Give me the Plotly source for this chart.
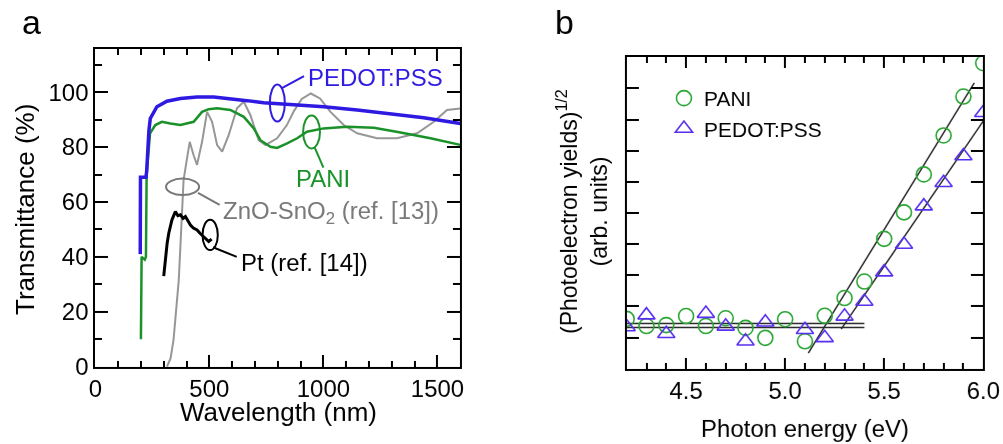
import plotly.graph_objects as go

FONT = "Liberation Sans, Arial, sans-serif"

# ---------------- Panel a data (wavelength nm, transmittance %) ----------------
pedot_nm = [197, 198, 222, 225, 235, 241, 270, 314, 373, 446, 519, 592, 665, 738, 810, 885, 1001, 1148, 1294, 1440, 1600]
pedot_T = [41, 69, 69, 71, 86, 90.4, 94.7, 96.7, 97.7, 98.2, 98.2, 97.7, 96.9, 96.1, 95.7, 95.3, 94.7, 93.5, 92.2, 90.7, 88.6]

pani_nm = [200, 203, 217, 222, 225, 240, 263, 292, 329, 373, 431, 468, 497, 534, 592, 651, 695, 724, 768, 797, 841, 885, 928, 1001, 1104, 1221, 1338, 1469, 1600]
pani_T = [10, 40, 39, 40, 70, 85, 88, 89.2, 88.6, 88, 89.2, 92.8, 93.8, 94.1, 93.5, 91, 86.8, 82.5, 80.1, 79.7, 81.3, 83.2, 85.6, 86.8, 87.4, 87, 85.3, 83.2, 80.8]

zno_nm = [314, 330, 343, 355, 366, 380, 387, 402, 414, 431, 446, 468, 490, 512, 534, 556, 585, 621, 651, 680, 716, 746, 797, 840, 870, 905, 945, 985, 1031, 1089, 1148, 1235, 1323, 1411, 1484, 1542, 1600]
zno_T = [0, 3, 9.8, 20, 31.6, 55.9, 68, 75.9, 81.9, 77, 73.5, 81.9, 92.8, 89.2, 80.7, 78.3, 84.4, 94.1, 96.5, 91.6, 82.5, 80.7, 83.2, 88, 93, 97.5, 99.5, 97.7, 92.8, 88, 85, 83.2, 83.2, 85, 89.2, 93.5, 94]

pt_nm = [300, 304, 307, 315, 322, 336, 351, 362, 373, 385, 395, 406, 417, 430, 446, 460, 475, 497, 510]
pt_T = [33, 37, 40.1, 45, 48.6, 53.5, 56.5, 55, 55.3, 54, 54.7, 53, 51.6, 50.5, 49.8, 48.5, 47.4, 45.6, 46.5]

# ---------------- Panel b data (photon energy eV, sqrt yield arb.) ----------------
pani_eV = [4.2, 4.3, 4.4, 4.5, 4.6, 4.7, 4.8, 4.9, 5.0, 5.1, 5.2, 5.3, 5.4, 5.5, 5.6, 5.7, 5.8, 5.9, 6.0]
pani_Y = [1.6, 1.37, 1.4, 1.69, 1.37, 1.62, 1.31, 0.99, 1.59, 0.88, 1.70, 2.27, 2.8, 4.17, 5.02, 6.24, 7.49, 8.74, 9.81]

pedot_eV = [4.2, 4.3, 4.4, 4.6, 4.7, 4.8, 4.9, 5.1, 5.2, 5.3, 5.4, 5.5, 5.6, 5.7, 5.8, 5.9, 6.0]
pedot_Y = [1.34, 1.72, 1.12, 1.77, 1.36, 0.88, 1.49, 1.25, 0.99, 1.68, 2.16, 3.10, 3.99, 5.22, 5.97, 6.83, 8.22]

pani_fit_x = [5.117, 5.955]
pani_fit_y = [0.50, 9.18]
pedot_fit_x = [5.283, 6.0]
pedot_fit_y = [1.27, 7.95]
base_x = [4.2, 5.4]
pani_base_y = [1.45, 1.45]
pedot_base_y = [1.32, 1.32]

BLUE = "rgb(45,25,225)"
GREEN = "rgb(25,145,40)"
GRAY = "rgb(150,150,150)"
DGRAY = "rgb(120,120,120)"
MK_GREEN = "rgb(40,165,50)"
MK_BLUE = "rgb(85,45,240)"

fig = go.Figure()

# panel a traces
fig.add_trace(go.Scatter(x=zno_nm, y=zno_T, mode="lines", line=dict(color=GRAY, width=2),
                         xaxis="x", yaxis="y", showlegend=False))
fig.add_trace(go.Scatter(x=pt_nm, y=pt_T, mode="lines", line=dict(color="black", width=3),
                         xaxis="x", yaxis="y", showlegend=False))
fig.add_trace(go.Scatter(x=pani_nm, y=pani_T, mode="lines", line=dict(color=GREEN, width=2.5),
                         xaxis="x", yaxis="y", showlegend=False))
fig.add_trace(go.Scatter(x=pedot_nm, y=pedot_T, mode="lines", line=dict(color=BLUE, width=3.5),
                         xaxis="x", yaxis="y", showlegend=False))

# panel b traces
for fx, fy in [(base_x, pani_base_y), (base_x, pedot_base_y), (pani_fit_x, pani_fit_y), (pedot_fit_x, pedot_fit_y)]:
    fig.add_trace(go.Scatter(x=fx, y=fy, mode="lines", line=dict(color="rgb(40,40,40)", width=1.5),
                             xaxis="x2", yaxis="y2", showlegend=False))
fig.add_trace(go.Scatter(x=pani_eV, y=pani_Y, mode="markers", name="PANI",
                         marker=dict(symbol="circle-open", size=15, color=MK_GREEN, line=dict(width=1.6)),
                         xaxis="x2", yaxis="y2"))
fig.add_trace(go.Scatter(x=pedot_eV, y=pedot_Y, mode="markers", name="PEDOT:PSS",
                         marker=dict(symbol="triangle-up-open", size=15, color=MK_BLUE, line=dict(width=1.6)),
                         xaxis="x2", yaxis="y2"))

W, H = 1003, 444
def px(x):
    return x / W
def py(y):
    return 1 - y / H

def axis(**kw):
    d = dict(showline=True, linewidth=2, linecolor="black", mirror="allticks", ticks="inside",
             tickwidth=2, tickcolor="black", showgrid=False, zeroline=False, automargin=False,
             tickfont=dict(family=FONT, size=24, color="black"))
    d.update(kw)
    return d

fig.update_layout(
    width=W, height=H, autosize=False,
    margin=dict(l=0, r=0, t=0, b=0),
    paper_bgcolor="white", plot_bgcolor="white",
    font=dict(family=FONT, color="black"),
    xaxis=axis(domain=[px(95.3), px(460.3)], range=[0, 1600], tick0=0, dtick=500, ticklen=12, anchor="y",
               minor=dict(dtick=100, ticklen=6, ticks="inside")),
    yaxis=axis(domain=[py(366.7), py(49.3)], range=[0, 115.6], tick0=0, dtick=20, ticklen=13, anchor="x",
               minor=dict(dtick=10, ticklen=7, ticks="inside")),
    xaxis2=axis(domain=[px(626.7), px(983.3)], range=[4.2, 6.0], tick0=4.5, dtick=0.5, tickformat=".1f", ticklen=11,
                anchor="y2", minor=dict(dtick=0.1, ticklen=6, ticks="inside")),
    yaxis2=axis(domain=[py(368.7), py(57.3)], range=[0, 10], tick0=0, dtick=1, ticklen=12, showticklabels=False,
                anchor="x2"),
    legend=dict(x=px(664), y=py(78), xanchor="left", yanchor="top", bgcolor="rgba(0,0,0,0)",
                font=dict(family=FONT, size=21, color="black")),
)

ann = []
def pann(text, x, y, size, angle=0):
    ann.append(dict(text=text, x=px(x), y=py(y), xref="paper", yref="paper", xanchor="center", yanchor="middle",
                    showarrow=False, textangle=angle, font=dict(family=FONT, size=size, color="black")))
pann("Wavelength (nm)", 278, 412, 26)
pann("Transmittance (%)", 25, 210, 26, -90)
pann("Photon energy (eV)", 805, 428, 24)
pann("(Photoelectron yields)<sup>1/2</sup><br>(arb. units)", 582, 212, 23, -90)
pann("a", 32, 22, 34)
pann("b", 564, 22, 34)

def dann(text, x, y, color, xanchor="left"):
    ann.append(dict(text=text, x=x, y=y, xref="x", yref="y", xanchor=xanchor, yanchor="middle", showarrow=False,
                    font=dict(family=FONT, size=24, color=color)))
dann("PEDOT:PSS", 925, 105.5, BLUE)
dann("PANI", 1000, 68.5, GREEN, "center")
dann("ZnO-SnO<sub>2</sub> (ref. [13])", 553, 56, DGRAY)
dann("Pt (ref. [14])", 628, 37.8, "black")
fig.update_layout(annotations=ann)

shapes = []
def ell(x0, x1, y0, y1, color):
    shapes.append(dict(type="circle", xref="x", yref="y", x0=x0, x1=x1, y0=y0, y1=y1,
                       line=dict(color=color, width=2)))
def seg(x0, y0, x1, y1, color):
    shapes.append(dict(type="line", xref="x", yref="y", x0=x0, x1=x1, y0=y0, y1=y1,
                       line=dict(color=color, width=2)))
ell(765, 831, 89.3, 102.8, BLUE)
seg(818, 101.5, 915, 105.8, BLUE)
ell(911, 985, 79.5, 91.5, GREEN)
seg(962, 79.8, 1000, 72.5, GREEN)
ell(310, 455, 62.5, 68.5, DGRAY)
seg(450, 63.3, 545, 58.9, DGRAY)
ell(470, 537, 42.5, 53.5, "black")
seg(516, 43.5, 620, 40, "black")
fig.update_layout(shapes=shapes)

# margin-free page; render the graph on its own compositing layer
post = ("document.documentElement.style.margin='0';document.body.style.margin='0';"
        "document.documentElement.style.overflow='hidden';document.body.style.overflow='hidden';"
        "var gd=document.getElementById('{plot_id}');"
        "gd.style.transformOrigin='0 0';gd.style.transform='scale(0.9999)';gd.style.willChange='transform';")

fig.write_html("out.html", post_script=post)
